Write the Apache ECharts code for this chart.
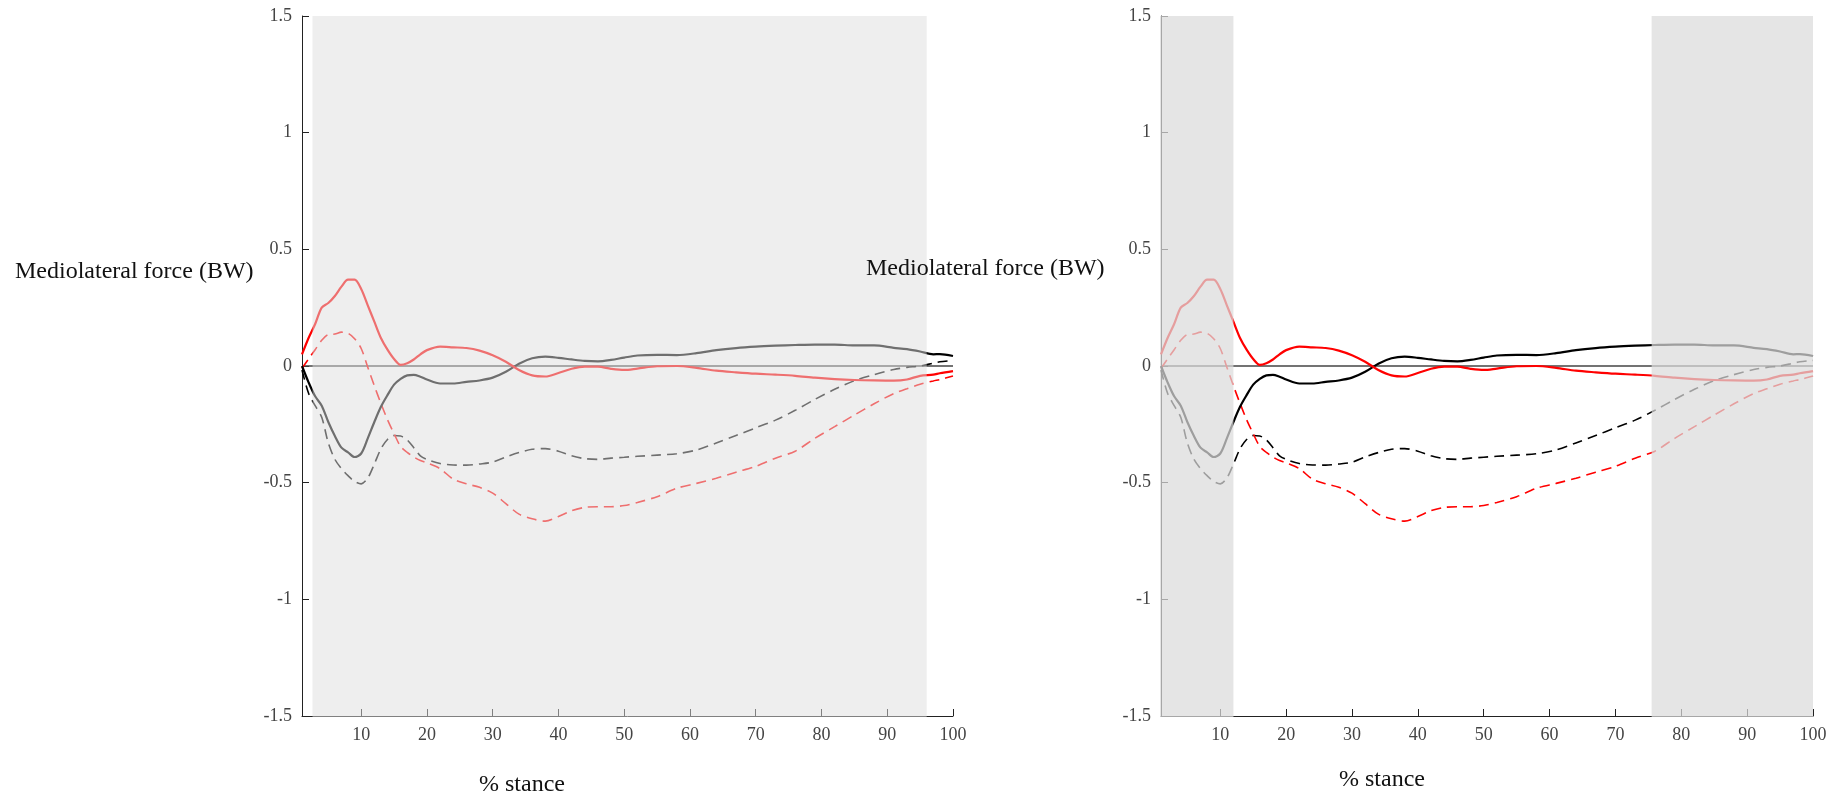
<!DOCTYPE html>
<html>
<head>
<meta charset="utf-8">
<script src="https://cdn.jsdelivr.net/npm/echarts@6/dist/echarts.min.js"></script>
<style>
  html, body { margin: 0; padding: 0; background: #ffffff; }
  #chart { width: 1834px; height: 801px; }
</style>
</head>
<body>
<div id="chart"></div>
<script>
// % stance sample positions
const stance = [1, 2, 3, 4, 5, 6, 7, 8, 9, 10, 11, 12, 13, 14, 15, 16, 17, 18, 19, 20,
  22, 24, 26, 28, 30, 32, 34, 36, 38, 40, 42, 44, 46, 48, 50, 52,
  55, 58, 61, 64, 67, 70, 73, 76, 79, 82, 85, 88, 91,
  93, 95, 97, 98, 100];

// Mediolateral force (BW), solid red curve
const redSolid = [0.05, 0.12, 0.18, 0.25, 0.27, 0.30, 0.34, 0.37, 0.37, 0.33, 0.26, 0.19, 0.12, 0.07, 0.03, 0.005, 0.012, 0.028, 0.05, 0.068,
  0.083, 0.08, 0.077, 0.066, 0.046, 0.018, -0.017, -0.04, -0.045, -0.03, -0.012, -0.003, -0.003, -0.012, -0.017, -0.011,
  -0.001, 0.0, -0.008, -0.02, -0.027, -0.033, -0.037, -0.042, -0.05, -0.056, -0.06, -0.062, -0.063,
  -0.058, -0.042, -0.037, -0.031, -0.022];

// solid black curve
const blackSolid = [0.0, -0.07, -0.13, -0.17, -0.24, -0.30, -0.35, -0.37, -0.39, -0.375, -0.31, -0.24, -0.175, -0.125, -0.08, -0.055, -0.04, -0.038, -0.046, -0.058,
  -0.075, -0.075, -0.068, -0.062, -0.05, -0.025, 0.01, 0.033, 0.04, 0.035, 0.028, 0.022, 0.02, 0.026, 0.036, 0.045,
  0.048, 0.047, 0.055, 0.068, 0.077, 0.083, 0.087, 0.09, 0.092, 0.092, 0.088, 0.088, 0.078,
  0.072, 0.062, 0.05, 0.051, 0.043];

// dashed red curve
const redDashed = [-0.01, 0.03, 0.07, 0.11, 0.135, 0.137, 0.145, 0.14, 0.117, 0.075, -0.005, -0.085, -0.16, -0.23, -0.29, -0.345, -0.37, -0.39, -0.405, -0.415,
  -0.44, -0.485, -0.505, -0.52, -0.545, -0.59, -0.635, -0.655, -0.665, -0.645, -0.62, -0.606, -0.603, -0.603, -0.598, -0.585,
  -0.56, -0.524, -0.503, -0.481, -0.455, -0.43, -0.395, -0.365, -0.31, -0.26, -0.21, -0.162, -0.118,
  -0.098, -0.078, -0.064, -0.058, -0.043];

// dashed black curve
const blackDashed = [-0.017, -0.117, -0.17, -0.22, -0.33, -0.40, -0.44, -0.47, -0.495, -0.505, -0.48, -0.42, -0.355, -0.315, -0.298, -0.3, -0.317, -0.35, -0.385, -0.4,
  -0.418, -0.424, -0.425, -0.42, -0.412, -0.39, -0.371, -0.357, -0.354, -0.365, -0.385, -0.397, -0.4, -0.395, -0.391, -0.387,
  -0.382, -0.376, -0.36, -0.33, -0.298, -0.265, -0.232, -0.19, -0.143, -0.1, -0.063, -0.037, -0.015,
  -0.006, 0.0, 0.012, 0.018, 0.024];

// axis ticks
const xTickValues = [10, 20, 30, 40, 50, 60, 70, 80, 90, 100];

// greyed-out stance windows [from, to] for each panel
const leftWindows = [[2.6, 96]];
const rightWindows = [[1, 12], [75.5, 100]];

const SERIF = '"Liberation Serif", "Times New Roman", serif';
const pair = arr => stance.map((x, i) => [x, arr[i]]);

function curves(g) {
  const base = {
    type: 'line', xAxisIndex: g, yAxisIndex: g, symbol: 'none', showSymbol: false,
    smooth: 0.3, silent: true, z: 2, animation: false
  };
  return [
    Object.assign({}, base, { data: [[1, 0], [100, 0]], smooth: false, z: 1,
      lineStyle: { color: '#444444', width: 1.5 } }),
    Object.assign({}, base, { data: pair(blackDashed),
      lineStyle: { color: '#000000', width: 1.6, type: [10, 6] } }),
    Object.assign({}, base, { data: pair(redDashed),
      lineStyle: { color: '#ff0000', width: 1.6, type: [10, 6] } }),
    Object.assign({}, base, { data: pair(blackSolid),
      lineStyle: { color: '#000000', width: 2.2 } }),
    Object.assign({}, base, { data: pair(redSolid),
      lineStyle: { color: '#ff0000', width: 2.2 } })
  ];
}

// translucent veil laid over the curves and axes inside a window
function veil(g, windows, fill) {
  return {
    type: 'custom', xAxisIndex: g, yAxisIndex: g, z: 10, silent: true, animation: false,
    encode: { x: [0, 1] },
    data: windows,
    renderItem(params, api) {
      const a = api.coord([api.value(0), 1.5]);
      const b = api.coord([api.value(1), -1.5]);
      const x0 = a[0] - (api.value(0) <= 1 ? 1 : 0);
      return {
        type: 'rect',
        shape: { x: x0, y: a[1], width: b[0] - x0, height: b[1] - a[1] + 1 },
        style: { fill: fill }
      };
    }
  };
}

function xAxis(g) {
  return {
    type: 'value', gridIndex: g, min: 1, max: 100,
    axisLine: { show: true, onZero: false, lineStyle: { color: '#222', width: 1 } },
    axisTick: { show: true, inside: true, length: 7, customValues: xTickValues,
      lineStyle: { color: '#222', width: 1 } },
    axisLabel: { customValues: xTickValues, fontFamily: SERIF, fontSize: 18, color: '#444', margin: 10 },
    splitLine: { show: false }
  };
}
function yAxis(g) {
  return {
    type: 'value', gridIndex: g, min: -1.5, max: 1.5, interval: 0.5,
    axisLine: { show: true, onZero: false, lineStyle: { color: '#222', width: 1 } },
    axisTick: { show: true, inside: true, length: 7, lineStyle: { color: '#222', width: 1 } },
    axisLabel: { fontFamily: SERIF, fontSize: 18, color: '#444', margin: 10 },
    splitLine: { show: false }
  };
}

function label(text, x, y, align) {
  return {
    type: 'text', x: x, y: y, z: 100, silent: true,
    style: { text: text, fontFamily: SERIF, fontSize: 24, fill: '#111', align: align, verticalAlign: 'middle' }
  };
}

const chart = echarts.init(document.getElementById('chart'), null, { renderer: 'canvas' });
chart.setOption({
  backgroundColor: '#ffffff',
  animation: false,
  grid: [
    { left: 302, top: 16, width: 651, height: 700, containLabel: false, outerBoundsMode: 'none' },
    { left: 1161, top: 16, width: 652, height: 700, containLabel: false, outerBoundsMode: 'none' }
  ],
  xAxis: [xAxis(0), xAxis(1)],
  yAxis: [yAxis(0), yAxis(1)],
  series: [].concat(
    curves(0),
    curves(1),
    [veil(0, leftWindows, 'rgba(221,221,221,0.5)'),
     veil(1, rightWindows, 'rgba(219,219,219,0.72)')]
  ),
  graphic: [
    label('Mediolateral force (BW)', 15, 272, 'left'),
    label('Mediolateral force (BW)', 866, 269, 'left'),
    label('% stance', 522, 785, 'center'),
    label('% stance', 1382, 780, 'center')
  ]
});
</script>
</body>
</html>
